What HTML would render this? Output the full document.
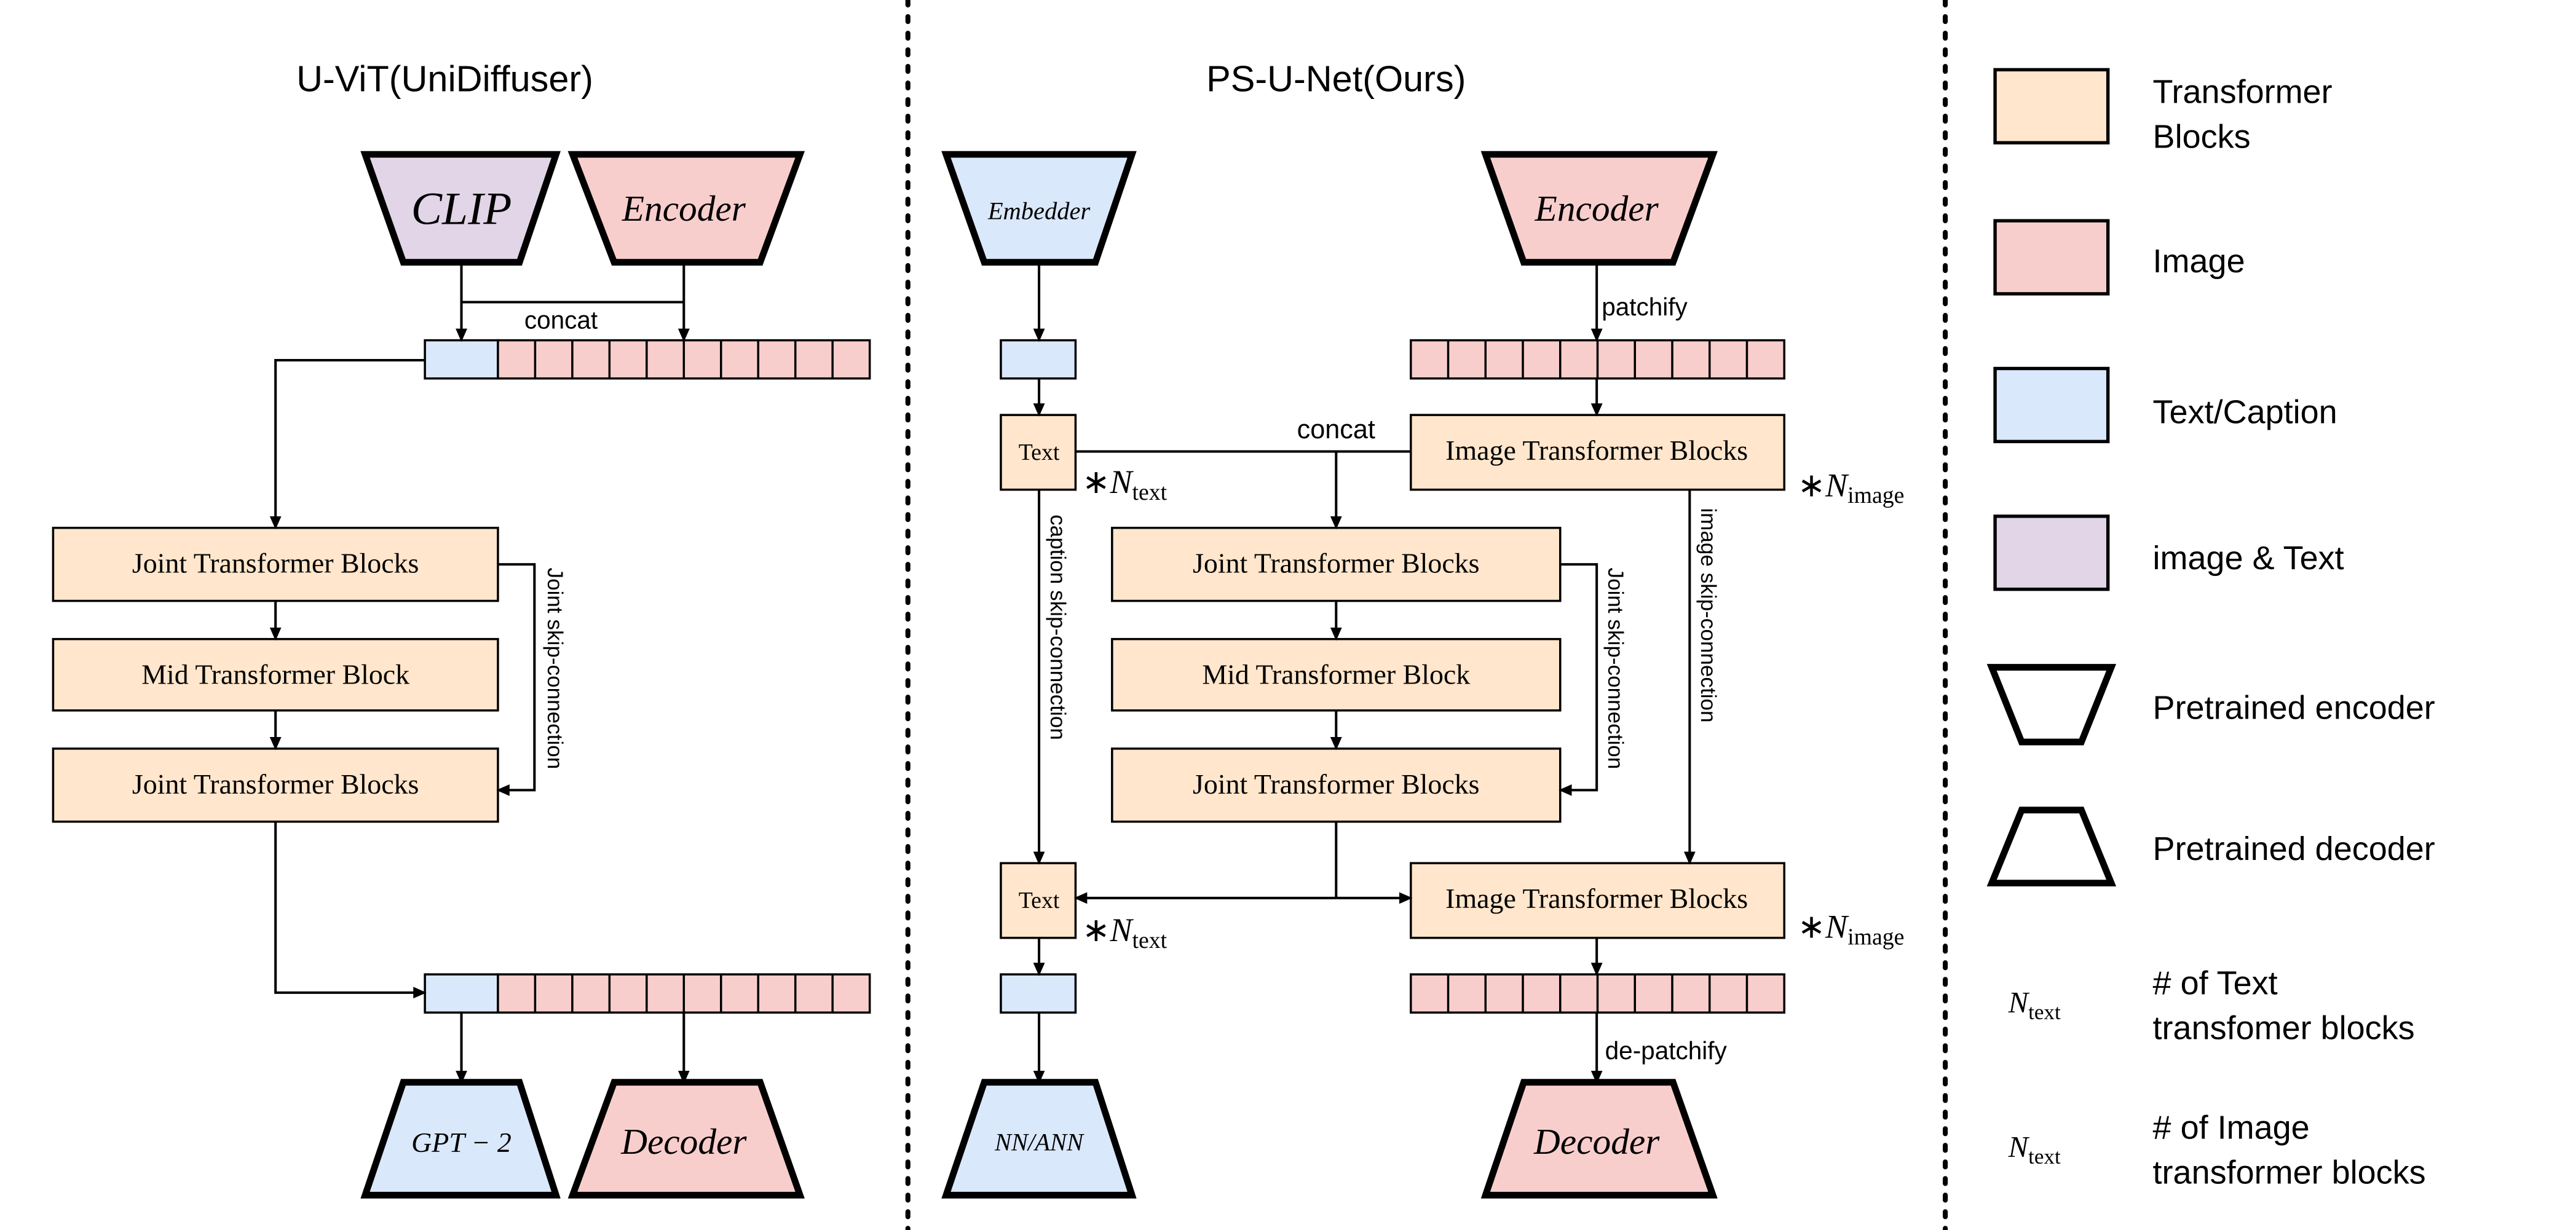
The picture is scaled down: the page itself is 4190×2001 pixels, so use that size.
<!DOCTYPE html>
<html><head><meta charset="utf-8"><style>
html,body{margin:0;padding:0;background:#fff;}
svg{display:block}
.s{font-family:"Liberation Sans",sans-serif;}
.r{font-family:"Liberation Serif",serif;}
</style></head><body>
<svg width="4190" height="2001" viewBox="0 0 1552 741" preserveAspectRatio="none" xmlns="http://www.w3.org/2000/svg">
<defs>
<marker id="a" markerWidth="8" markerHeight="8" refX="7" refY="4" orient="auto" markerUnits="userSpaceOnUse">
<path d="M0,0.5 L8,4 L0,7.5 z" fill="#000"/></marker>
</defs>
<rect width="1552" height="741" fill="#fff"/>
<!-- dotted separators -->
<line x1="547" y1="0" x2="547" y2="741" stroke="#000" stroke-width="3" stroke-dasharray="3,7" stroke-linecap="round"/>
<line x1="1172" y1="0" x2="1172" y2="741" stroke="#000" stroke-width="3" stroke-dasharray="3,7" stroke-linecap="round"/>

<g class="s" font-size="22" text-anchor="middle">
<text x="268" y="55">U-ViT(UniDiffuser)</text>
<text x="805" y="55">PS-U-Net(Ours)</text>
</g>

<g stroke="#000" stroke-width="4" stroke-linejoin="miter">
<!-- left encoders -->
<path d="M220,93 L335,93 L313,158 L243,158 Z" fill="#e1d5e7"/>
<path d="M345,93 L482,93 L458,158 L370,158 Z" fill="#f8cecc"/>
<path d="M243,652 L313,652 L335,720 L220,720 Z" fill="#dae8fc"/>
<path d="M370,652 L458,652 L482,720 L345,720 Z" fill="#f8cecc"/>
<!-- middle -->
<path d="M570,93 L682,93 L660,158 L593,158 Z" fill="#dae8fc"/>
<path d="M895,93 L1032,93 L1008,158 L918,158 Z" fill="#f8cecc"/>
<path d="M593,652 L660,652 L682,720 L570,720 Z" fill="#dae8fc"/>
<path d="M918,652 L1008,652 L1032,720 L895,720 Z" fill="#f8cecc"/>
<!-- legend -->
<path d="M1200,402 L1272,402 L1254,447 L1218,447 Z" fill="#fff"/>
<path d="M1218,488 L1254,488 L1272,532 L1200,532 Z" fill="#fff"/>
</g>
<g class="r" font-style="italic" text-anchor="middle">
<text x="278" y="135" font-size="28">CLIP</text>
<text x="412" y="133" font-size="22">Encoder</text>
<text x="278" y="694" font-size="17">GPT − 2</text>
<text x="412" y="695" font-size="22">Decoder</text>
<text x="626" y="132" font-size="15">Embedder</text>
<text x="962" y="133" font-size="22">Encoder</text>
<text x="626" y="693" font-size="15">NN/ANN</text>
<text x="962" y="695" font-size="22">Decoder</text>
</g>

<!-- token rows -->
<g stroke="#000" stroke-width="1.3">
<rect x="256" y="205" width="44" height="23" fill="#dae8fc"/>
<rect x="300" y="205" width="224" height="23" fill="#f8cecc"/>
<rect x="256" y="587" width="44" height="23" fill="#dae8fc"/>
<rect x="300" y="587" width="224" height="23" fill="#f8cecc"/>
<rect x="603" y="205" width="45" height="23" fill="#dae8fc"/>
<rect x="603" y="587" width="45" height="23" fill="#dae8fc"/>
<rect x="850" y="205" width="225" height="23" fill="#f8cecc"/>
<rect x="850" y="587" width="225" height="23" fill="#f8cecc"/>
<path d="M322.4,205v23M344.8,205v23M367.2,205v23M389.6,205v23M412,205v23M434.4,205v23M456.8,205v23M479.2,205v23M501.6,205v23
M322.4,587v23M344.8,587v23M367.2,587v23M389.6,587v23M412,587v23M434.4,587v23M456.8,587v23M479.2,587v23M501.6,587v23
M872.5,205v23M895,205v23M917.5,205v23M940,205v23M962.5,205v23M985,205v23M1007.5,205v23M1030,205v23M1052.5,205v23
M872.5,587v23M895,587v23M917.5,587v23M940,587v23M962.5,587v23M985,587v23M1007.5,587v23M1030,587v23M1052.5,587v23" fill="none"/>
</g>

<!-- boxes -->
<g stroke="#000" stroke-width="1.3" fill="#ffe6cc">
<rect x="32" y="318" width="268" height="44"/>
<rect x="32" y="385" width="268" height="43"/>
<rect x="32" y="451" width="268" height="44"/>
<rect x="670" y="318" width="270" height="44"/>
<rect x="670" y="385" width="270" height="43"/>
<rect x="670" y="451" width="270" height="44"/>
<rect x="603" y="250" width="45" height="45"/>
<rect x="603" y="520" width="45" height="45"/>
<rect x="850" y="250" width="225" height="45"/>
<rect x="850" y="520" width="225" height="45"/>
</g>
<g class="r" font-size="17" text-anchor="middle">
<text x="166" y="345">Joint Transformer Blocks</text>
<text x="166" y="412">Mid Transformer Block</text>
<text x="166" y="478">Joint Transformer Blocks</text>
<text x="805" y="345">Joint Transformer Blocks</text>
<text x="805" y="412">Mid Transformer Block</text>
<text x="805" y="478">Joint Transformer Blocks</text>
<text x="962" y="277">Image Transformer Blocks</text>
<text x="962" y="547">Image Transformer Blocks</text>
<text x="626" y="277" font-size="14">Text</text>
<text x="626" y="547" font-size="14">Text</text>
</g>

<!-- connectors -->
<g stroke="#000" stroke-width="1.5" fill="none">
<path d="M278,158 V205" marker-end="url(#a)"/>
<path d="M412,158 V205" marker-end="url(#a)"/>
<path d="M278,182 H412"/>
<path d="M256,217 H166 V318" marker-end="url(#a)"/>
<path d="M166,362 V385" marker-end="url(#a)"/>
<path d="M166,428 V451" marker-end="url(#a)"/>
<path d="M300,340 H322 V476 H300" marker-end="url(#a)"/>
<path d="M166,495 V598 H256" marker-end="url(#a)"/>
<path d="M278,610 V652" marker-end="url(#a)"/>
<path d="M412,610 V652" marker-end="url(#a)"/>

<path d="M626,158 V205" marker-end="url(#a)"/>
<path d="M962,158 V205" marker-end="url(#a)"/>
<path d="M626,228 V250" marker-end="url(#a)"/>
<path d="M962,228 V250" marker-end="url(#a)"/>
<path d="M648,272 H850"/>
<path d="M805,272 V318" marker-end="url(#a)"/>
<path d="M805,362 V385" marker-end="url(#a)"/>
<path d="M805,428 V451" marker-end="url(#a)"/>
<path d="M940,340 H962 V476 H940" marker-end="url(#a)"/>
<path d="M626,295 V520" marker-end="url(#a)"/>
<path d="M1018,295 V520" marker-end="url(#a)"/>
<path d="M805,495 V541"/>
<path d="M805,541 H648" marker-end="url(#a)"/>
<path d="M805,541 H850" marker-end="url(#a)"/>
<path d="M626,565 V587" marker-end="url(#a)"/>
<path d="M962,565 V587" marker-end="url(#a)"/>
<path d="M626,610 V652" marker-end="url(#a)"/>
<path d="M962,610 V652" marker-end="url(#a)"/>
</g>

<g class="s" font-size="15">
<text x="338" y="198" text-anchor="middle">concat</text>
<text x="805" y="264" text-anchor="middle" font-size="16">concat</text>
<text x="965" y="190" font-size="15">patchify</text>
<text x="967" y="638" font-size="15">de-patchify</text>
<text transform="translate(330,342) rotate(90)" font-size="13">Joint skip-connection</text>
<text transform="translate(969,342) rotate(90)" font-size="13">Joint skip-connection</text>
<text transform="translate(633,310) rotate(90)" font-size="13">caption skip-connection</text>
<text transform="translate(1025,306) rotate(90)" font-size="13">image skip-connection</text>
</g>

<g class="r" font-size="20">
<text x="652" y="297">∗<tspan font-style="italic">N</tspan><tspan font-size="14" dy="4">text</tspan></text>
<text x="652" y="567">∗<tspan font-style="italic">N</tspan><tspan font-size="14" dy="4">text</tspan></text>
<text x="1083" y="299">∗<tspan font-style="italic">N</tspan><tspan font-size="14" dy="4">image</tspan></text>
<text x="1083" y="565">∗<tspan font-style="italic">N</tspan><tspan font-size="14" dy="4">image</tspan></text>
<text x="1210" y="610" font-size="18"><tspan font-style="italic">N</tspan><tspan font-size="13" dy="4">text</tspan></text>
<text x="1210" y="697" font-size="18"><tspan font-style="italic">N</tspan><tspan font-size="13" dy="4">text</tspan></text>
</g>

<!-- legend -->
<g stroke="#000" stroke-width="2">
<rect x="1202" y="42" width="68" height="44" fill="#ffe6cc"/>
<rect x="1202" y="133" width="68" height="44" fill="#f8cecc"/>
<rect x="1202" y="222" width="68" height="44" fill="#dae8fc"/>
<rect x="1202" y="311" width="68" height="44" fill="#e1d5e7"/>
</g>
<g class="s" font-size="20">
<text x="1297" y="62">Transformer</text>
<text x="1297" y="89">Blocks</text>
<text x="1297" y="164">Image</text>
<text x="1297" y="255">Text/Caption</text>
<text x="1297" y="343">image &amp; Text</text>
<text x="1297" y="433">Pretrained encoder</text>
<text x="1297" y="518">Pretrained decoder</text>
<text x="1297" y="599">#  of Text</text>
<text x="1297" y="626">transfomer blocks</text>
<text x="1297" y="686">#  of Image</text>
<text x="1297" y="713">transformer blocks</text>
</g>
</svg>
</body></html>
